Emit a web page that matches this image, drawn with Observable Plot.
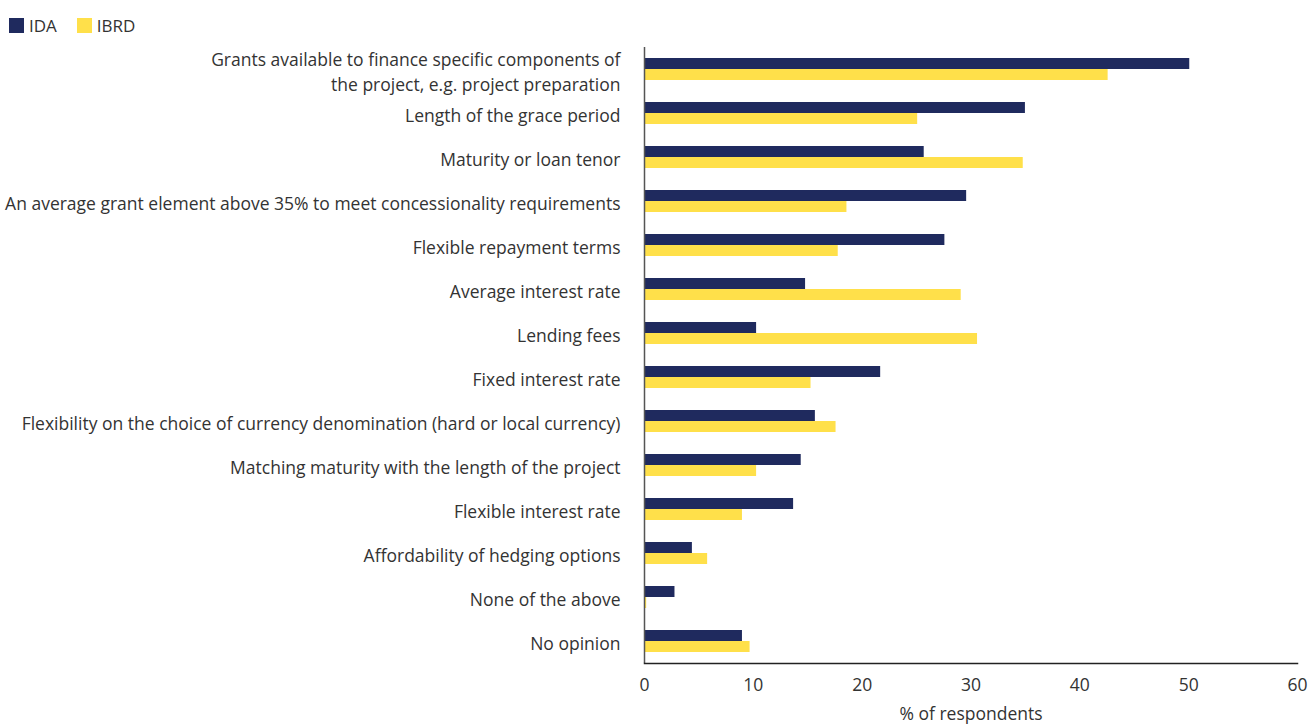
<!DOCTYPE html>
<html>
<head>
<meta charset="utf-8">
<script src="https://cdn.jsdelivr.net/npm/d3@7"></script>
<script src="https://cdn.jsdelivr.net/npm/@observablehq/plot@0.6"></script>
<style>
  body { margin: 0; background: #fff; font-family: "Open Sans", Lato, sans-serif; color: #333; }
  #legend { height: 45px; display: flex; align-items: flex-start; padding-top: 14px; box-sizing: border-box; padding-left: 9px; font-size: 17px; }
  .item { display: flex; align-items: center; margin-right: 20px; }
  .sw { width: 15px; height: 15px; display: inline-block; margin-right: 5px; }
</style>
</head>
<body>
<div id="legend"></div>
<div id="chart"></div>
<script>
const categories = [
  "Grants available to finance specific components of\nthe project, e.g. project preparation",
  "Length of the grace period",
  "Maturity or loan tenor",
  "An average grant element above 35% to meet concessionality requirements",
  "Flexible repayment terms",
  "Average interest rate",
  "Lending fees",
  "Fixed interest rate",
  "Flexibility on the choice of currency denomination (hard or local currency)",
  "Matching maturity with the length of the project",
  "Flexible interest rate",
  "Affordability of hedging options",
  "None of the above",
  "No opinion"
];
const idaValues  = [50.1, 35.0, 25.7, 29.6, 27.6, 14.8, 10.3, 21.7, 15.7, 14.4, 13.7, 4.4, 2.8, 9.0];
const ibrdValues = [42.6, 25.1, 34.8, 18.6, 17.8, 29.1, 30.6, 15.3, 17.6, 10.3, 9.0, 5.8, 0.2, 9.7];
const seriesNames = ["IDA", "IBRD"];
const seriesColors = ["#1f2a5e", "#ffe04a"];
const xTicks = [0, 10, 20, 30, 40, 50, 60];

const ida = categories.map((c, i) => ({category: c, value: idaValues[i]}));
const ibrd = categories.map((c, i) => ({category: c, value: ibrdValues[i]}));

const legend = document.getElementById("legend");
seriesNames.forEach((s, i) => {
  const it = document.createElement("div");
  it.className = "item";
  it.innerHTML = `<span class="sw" style="background:${seriesColors[i]}"></span>${s}`;
  legend.appendChild(it);
});

const plot = Plot.plot({
  width: 1311,
  height: 679,
  marginLeft: 644,
  marginRight: 14,
  marginTop: 2,
  marginBottom: 61,
  style: {fontFamily: "'Open Sans', Lato, sans-serif", fontSize: "17.5px", color: "#333"},
  x: {domain: [0, 60]},
  y: {domain: categories, paddingInner: 0.5, paddingOuter: 0.25},
  marks: [
    Plot.barX(ida, {y: "category", x: "value", fill: seriesColors[0], insetBottom: 11}),
    Plot.barX(ibrd, {y: "category", x: "value", fill: seriesColors[1], insetTop: 11}),
    Plot.ruleX([0], {stroke: "#555", strokeWidth: 1.5}),
    Plot.frame({anchor: "bottom", stroke: "#222", strokeWidth: 1.5}),
    Plot.axisY({tickSize: 0, tickPadding: 24, lineHeight: 1.4, dy: 1, label: null, fontSize: 17.5}),
    Plot.axisX({ticks: xTicks, tickSize: 0, tickPadding: 15, label: "% of respondents", labelAnchor: "center", labelOffset: 56, labelArrow: "none", fontSize: 17.5})
  ]
});
document.getElementById("chart").appendChild(plot);
</script>
</body>
</html>
